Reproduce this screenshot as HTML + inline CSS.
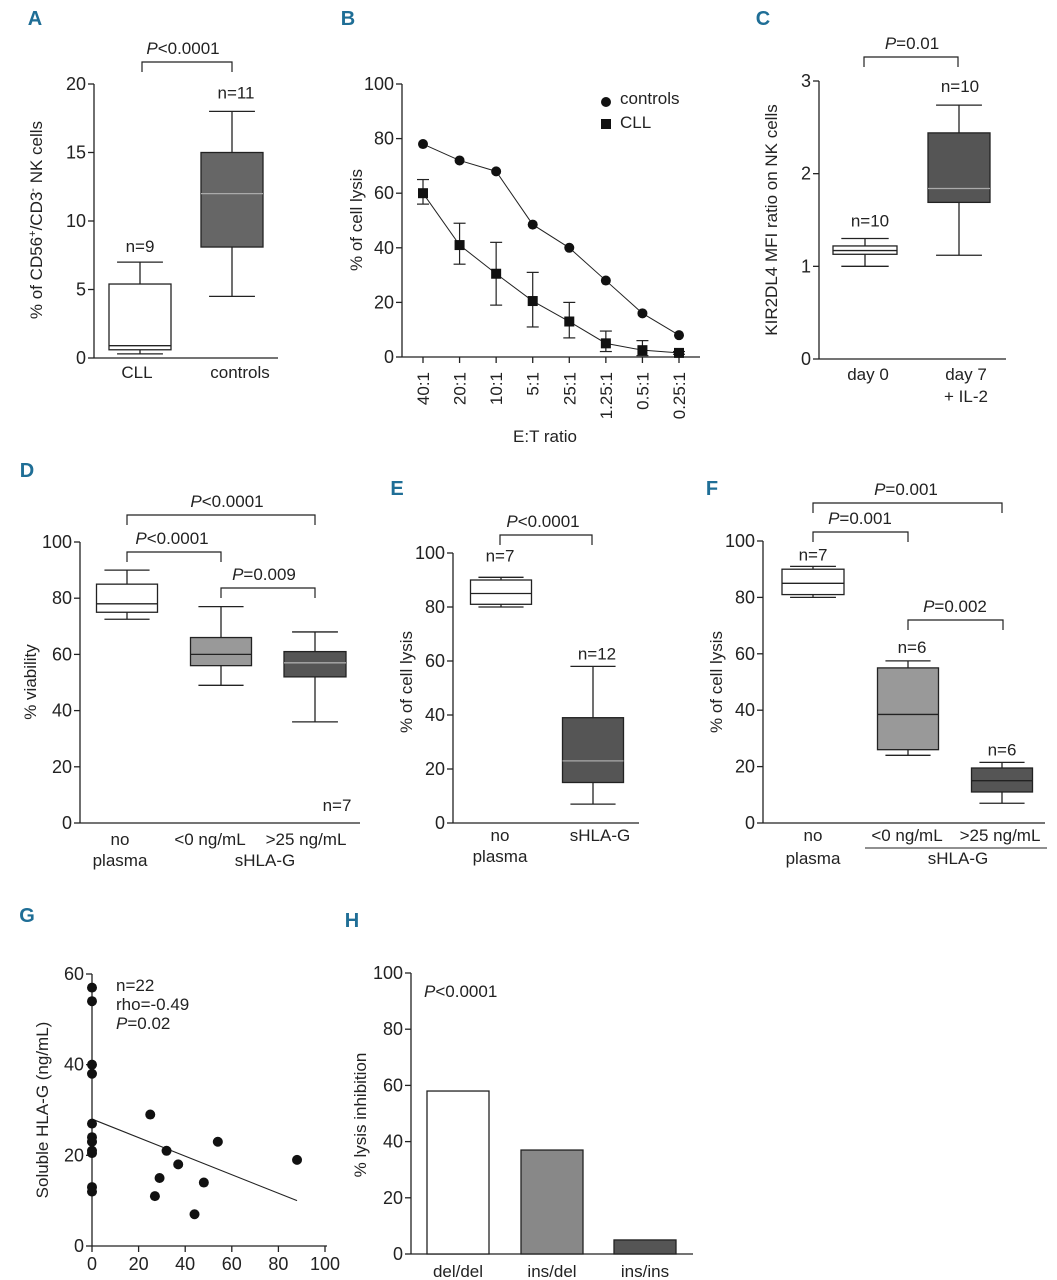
<!DOCTYPE html>
<html><head><meta charset="utf-8"><style>
html,body{margin:0;padding:0;background:#fff;}
svg{display:block;font-family:"Liberation Sans",sans-serif;}
text{fill:#222;}
.lt{font-family:"Liberation Sans",sans-serif;font-weight:bold;fill:#1f6e96;font-size:20px;}
</style></head><body>
<svg id="fig" width="1057" height="1280" viewBox="0 0 1057 1280" xmlns="http://www.w3.org/2000/svg"></svg>
<script>
// ---- data ----
const aCats = ["CLL","controls"];
const aStats = [[0.3,0.6,0.9,5.4,7],[4.5,8.1,12,15,18]];
const bCats = ["40:1","20:1","10:1","5:1","25:1","1.25:1","0.5:1","0.25:1"];
const bControls = [78,72,68,48.5,40,28,16,8];
const bCLL = [60,41,30.5,20.5,13,5,2.5,1.5];
const bCLLhi = [65,49,42,31,20,9.5,6,2];
const bCLLlo = [56,34,19,11,7,2,0.5,1];
const cCats = ["day 0","day 7"];
const cStats = [[1.0,1.13,1.17,1.22,1.3],[1.12,1.69,1.84,2.44,2.74]];
const dCats = ["no plasma","<0 ng/mL",">25 ng/mL"];
const dStats = [[72.5,75,78,85,90],[49,56,60,66,77],[36,52,57,61,68]];
const eCats = ["no plasma","sHLA-G"];
const eStats = [[80,81,85,90,91],[7,15,23,39,58]];
const fCats = ["no plasma","<0 ng/mL",">25 ng/mL"];
const fStats = [[80,81,85,90,91],[24,26,38.5,55,57.5],[7,11,15,19.5,21.5]];
const gX = [0,0,0,0,0,0,0,0,0,0,0,25,27,29,32,37,44,48,54,88];
const gY = [57,54,40,38,27,24,23,21,20.5,13,12,29,11,15,21,18,7,14,23,19];
const gFitX = [0,88];
const gFitY = [28,10];
const hCats = ["del/del","ins/del","ins/ins"];
const hVals = [58,37,5];

const NS="http://www.w3.org/2000/svg";
const svg=document.getElementById('fig');
function mk(tag,attrs,name,parent){
  const el=document.createElementNS(NS,tag);
  for(const k in attrs) el.setAttribute(k,attrs[k]);
  
  
  (parent||svg).appendChild(el);
  return el;
}
function txt(x,y,s,name,opt){
  opt=opt||{};
  const t=mk('text',{x:x,y:y,'font-size':opt.fs||17,'text-anchor':opt.anchor||'middle'},name);
  if(opt.rot) t.setAttribute('transform','rotate('+opt.rot+' '+x+' '+y+')');
  if(opt.cls) t.setAttribute('class',opt.cls);
  t.innerHTML=s;
  return t;
}
function line(x1,y1,x2,y2,name,w){
  return mk('line',{x1:x1,y1:y1,x2:x2,y2:y2,stroke:'#222','stroke-width':w||1.3},name);
}
function scale(v0,v1,p0,p1){return v=>p0+(v-v0)*(p1-p0)/(v1-v0);}
function yAxis(x,ys,ticks,xEnd,yPix,prefix){
  line(x,ys(ticks[0]),x,ys(ticks[ticks.length-1]),prefix+'-y-axis');
  line(x,yPix,xEnd,yPix,prefix+'-x-axis');
  ticks.forEach(t=>{
    line(x-6,ys(t),x,ys(t),prefix+'-y-tick');
    txt(x-8,ys(t)+6,t,prefix+'-y-tick-label',{anchor:'end',fs:18});
  });
}
function box(cx,w,s,ys,fill,medCol,prefix){
  const g=mk('g',{},prefix+'-box');
  const hw=w/2, cw=w*0.37;
  mk('line',{x1:cx,y1:ys(s[0]),x2:cx,y2:ys(s[1]),stroke:'#222','stroke-width':1.3},prefix+'-whisker-low',g);
  mk('line',{x1:cx,y1:ys(s[3]),x2:cx,y2:ys(s[4]),stroke:'#222','stroke-width':1.3},prefix+'-whisker-high',g);
  mk('line',{x1:cx-cw,y1:ys(s[0]),x2:cx+cw,y2:ys(s[0]),stroke:'#222','stroke-width':1.3},prefix+'-cap-low',g);
  mk('line',{x1:cx-cw,y1:ys(s[4]),x2:cx+cw,y2:ys(s[4]),stroke:'#222','stroke-width':1.3},prefix+'-cap-high',g);
  mk('rect',{x:cx-hw,y:ys(s[3]),width:w,height:ys(s[1])-ys(s[3]),fill:fill,stroke:'#222','stroke-width':1.3},prefix+'-iqr',g);
  mk('line',{x1:cx-hw,y1:ys(s[2]),x2:cx+hw,y2:ys(s[2]),stroke:medCol,'stroke-width':1.3},prefix+'-median',g);
}
function bracket(x1,x2,y,label,tx,name){
  mk('path',{d:'M'+x1+' '+(y+10)+'V'+y+'H'+x2+'V'+(y+10),fill:'none',stroke:'#222','stroke-width':1.2},name);
  txt(tx,y-8,label,name+'-label');
}
const P='<tspan font-style="italic">P</tspan>';

// ---- Panel A ----
txt(35,25,'A','panel-a-letter',{cls:'lt'});
{const ys=scale(0,20,358,84);
yAxis(94,ys,[0,5,10,15,20],278,358,'a');
const xs=[140,232];
aCats.forEach((c,i)=>txt(xs[i]+(i?8:-3),378,c,'a-x-label'));
box(xs[0],62,aStats[0],ys,'#fff','#222','a-cll');
box(xs[1],62,aStats[1],ys,'#666','#aaa','a-controls');
txt(140,ys(aStats[0][4])-10,'n=9','a-n-cll');
txt(236,ys(aStats[1][4])-13,'n=11','a-n-controls');
bracket(142,232,62,P+'&lt;0.0001',183,'a-p-bracket');
txt(42,220,'% of CD56<tspan baseline-shift="super" font-size="11">+</tspan>/CD3<tspan baseline-shift="super" font-size="11">-</tspan> NK cells','a-y-title',{rot:-90});}

// ---- Panel B ----
txt(348,25,'B','panel-b-letter',{cls:'lt'});
{const ys=scale(0,100,357,84);
yAxis(402,ys,[0,20,40,60,80,100],700,357,'b');
const xs=scale(0,7,423,679);
bCats.forEach((c,i)=>{line(xs(i),357,xs(i),363,'b-x-tick');txt(xs(i)+6,372,c,'b-x-label',{anchor:'end',rot:-90});});
const pc=bControls.map((v,i)=>xs(i)+','+ys(v)).join(' ');
mk('polyline',{points:pc,fill:'none',stroke:'#222','stroke-width':1},'b-controls-line');
const pl=bCLL.map((v,i)=>xs(i)+','+ys(v)).join(' ');
mk('polyline',{points:pl,fill:'none',stroke:'#222','stroke-width':1},'b-cll-line');
bCLL.forEach((v,i)=>{
  line(xs(i),ys(bCLLlo[i]),xs(i),ys(bCLLhi[i]),'b-cll-errorbar',1.2);
  line(xs(i)-6,ys(bCLLlo[i]),xs(i)+6,ys(bCLLlo[i]),'b-cll-error-cap',1.2);
  line(xs(i)-6,ys(bCLLhi[i]),xs(i)+6,ys(bCLLhi[i]),'b-cll-error-cap',1.2);
  mk('rect',{x:xs(i)-5,y:ys(v)-5,width:10,height:10,fill:'#111'},'b-cll-point');
});
bControls.forEach((v,i)=>mk('circle',{cx:xs(i),cy:ys(v),r:5,fill:'#111'},'b-controls-point'));
mk('circle',{cx:606,cy:102,r:5,fill:'#111'},'b-legend-controls-marker');
txt(620,104,'controls','b-legend-controls',{anchor:'start'});
mk('rect',{x:601,y:119,width:10,height:10,fill:'#111'},'b-legend-cll-marker');
txt(620,128,'CLL','b-legend-cll',{anchor:'start'});
txt(545,442,'E:T ratio','b-x-title');
txt(362,220,'% of cell lysis','b-y-title',{rot:-90});}

// ---- Panel C ----
txt(763,25,'C','panel-c-letter',{cls:'lt'});
{const ys=scale(0,3,359,81);
yAxis(819,ys,[0,1,2,3],1006,359,'c');
const xs=[865,959];
box(xs[0],64,cStats[0],ys,'#fff','#222','c-day0');
box(xs[1],62,cStats[1],ys,'#555','#aaa','c-day7');
txt(870,ys(cStats[0][4])-12,'n=10','c-n-day0');
txt(960,ys(cStats[1][4])-13,'n=10','c-n-day7');
txt(868,380,cCats[0],'c-x-label');
txt(966,380,cCats[1],'c-x-label');
txt(966,402,'+ IL-2','c-x-label-2');
bracket(864,958,57,P+'=0.01',912,'c-p-bracket');
txt(777,220,'KIR2DL4 MFI ratio on NK cells','c-y-title',{rot:-90});}

// ---- Panel D ----
txt(27,477,'D','panel-d-letter',{cls:'lt'});
{const ys=scale(0,100,823,542);
yAxis(80,ys,[0,20,40,60,80,100],360,823,'d');
const xs=[127,221,315];
box(xs[0],61,dStats[0],ys,'#fff','#222','d-no-plasma');
box(xs[1],61,dStats[1],ys,'#999','#222','d-low');
box(xs[2],62,dStats[2],ys,'#555','#aaa','d-high');
bracket(127,315,515,P+'&lt;0.0001',227,'d-p-bracket-1');
bracket(127,221,552,P+'&lt;0.0001',172,'d-p-bracket-2');
bracket(221,315,588,P+'=0.009',264,'d-p-bracket-3');
txt(337,811,'n=7','d-n');
txt(120,845,'no','d-x-label');txt(120,866,'plasma','d-x-label');
txt(210,845,dCats[1],'d-x-label');txt(306,845,dCats[2],'d-x-label');
txt(265,866,'sHLA-G','d-x-group-label');
txt(36,682,'% viability','d-y-title',{rot:-90});}

// ---- Panel E ----
txt(397,495,'E','panel-e-letter',{cls:'lt'});
{const ys=scale(0,100,823,553);
yAxis(453,ys,[0,20,40,60,80,100],639,823,'e');
const xs=[501,593];
box(xs[0],61,eStats[0],ys,'#fff','#222','e-no-plasma');
box(xs[1],61,eStats[1],ys,'#555','#aaa','e-shlag');
bracket(500,592,535,P+'&lt;0.0001',543,'e-p-bracket');
txt(500,ys(eStats[0][4])-16,'n=7','e-n-no-plasma');
txt(597,ys(eStats[1][4])-7,'n=12','e-n-shlag');
txt(500,841,'no','e-x-label');txt(500,862,'plasma','e-x-label');
txt(600,841,eCats[1],'e-x-label');
txt(412,682,'% of cell lysis','e-y-title',{rot:-90});}

// ---- Panel F ----
txt(712,495,'F','panel-f-letter',{cls:'lt'});
{const ys=scale(0,100,823,541);
yAxis(763,ys,[0,20,40,60,80,100],1045,823,'f');
const xs=[813,908,1002];
box(xs[0],62,fStats[0],ys,'#fff','#222','f-no-plasma');
box(xs[1],61,fStats[1],ys,'#999','#222','f-low');
box(xs[2],61,fStats[2],ys,'#555','#222','f-high');
bracket(813,1002,503,P+'=0.001',906,'f-p-bracket-1');
bracket(813,908,532,P+'=0.001',860,'f-p-bracket-2');
bracket(908,1003,620,P+'=0.002',955,'f-p-bracket-3');
txt(813,ys(fStats[0][4])-6,'n=7','f-n-no-plasma');
txt(912,ys(fStats[1][4])-8,'n=6','f-n-low');
txt(1002,ys(fStats[2][4])-7,'n=6','f-n-high');
txt(813,841,'no','f-x-label');txt(813,864,'plasma','f-x-label');
txt(907,841,fCats[1],'f-x-label');txt(1000,841,fCats[2],'f-x-label');
line(865,848,1047,848,'f-group-underline',1.1);
txt(958,864,'sHLA-G','f-x-group-label');
txt(722,682,'% of cell lysis','f-y-title',{rot:-90});}

// ---- Panel G ----
txt(27,922,'G','panel-g-letter',{cls:'lt'});
{const ys=scale(0,60,1246,974), xs=scale(0,100,92,325);
line(92,974,92,1246,'g-y-axis');line(92,1246,327,1246,'g-x-axis');
[0,20,40,60].forEach(t=>{line(86,ys(t),92,ys(t),'g-y-tick');txt(84,ys(t)+6,t,'g-y-tick-label',{anchor:'end',fs:18});});
[0,20,40,60,80,100].forEach(t=>{line(xs(t),1246,xs(t),1252,'g-x-tick');txt(xs(t),1270,t,'g-x-tick-label',{fs:18});});
line(xs(gFitX[0]),ys(gFitY[0]),xs(gFitX[1]),ys(gFitY[1]),'g-regression-line',1.1);
gX.forEach((v,i)=>mk('circle',{cx:xs(v),cy:ys(gY[i]),r:5,fill:'#111'},'g-point'));
txt(116,991,'n=22','g-n',{anchor:'start'});
txt(116,1010,'rho=-0.49','g-rho',{anchor:'start'});
txt(116,1029,P+'=0.02','g-p',{anchor:'start'});
txt(48,1110,'Soluble HLA-G (ng/mL)','g-y-title',{rot:-90});}

// ---- Panel H ----
txt(352,927,'H','panel-h-letter',{cls:'lt'});
{const ys=scale(0,100,1254,973);
yAxis(411,ys,[0,20,40,60,80,100],693,1254,'h');
const xs=[458,552,645], fills=['#fff','#888','#555'];
hVals.forEach((v,i)=>{
  mk('rect',{x:xs[i]-31,y:ys(v),width:62,height:1254-ys(v),fill:fills[i],stroke:'#222','stroke-width':1.3},'h-bar-'+hCats[i].replace('/','-'));
  txt(xs[i],1277,hCats[i],'h-x-label');
});
txt(424,997,P+'&lt;0.0001','h-p',{anchor:'start'});
txt(366,1115,'% lysis inhibition','h-y-title',{rot:-90});}
</script>
</body></html>
